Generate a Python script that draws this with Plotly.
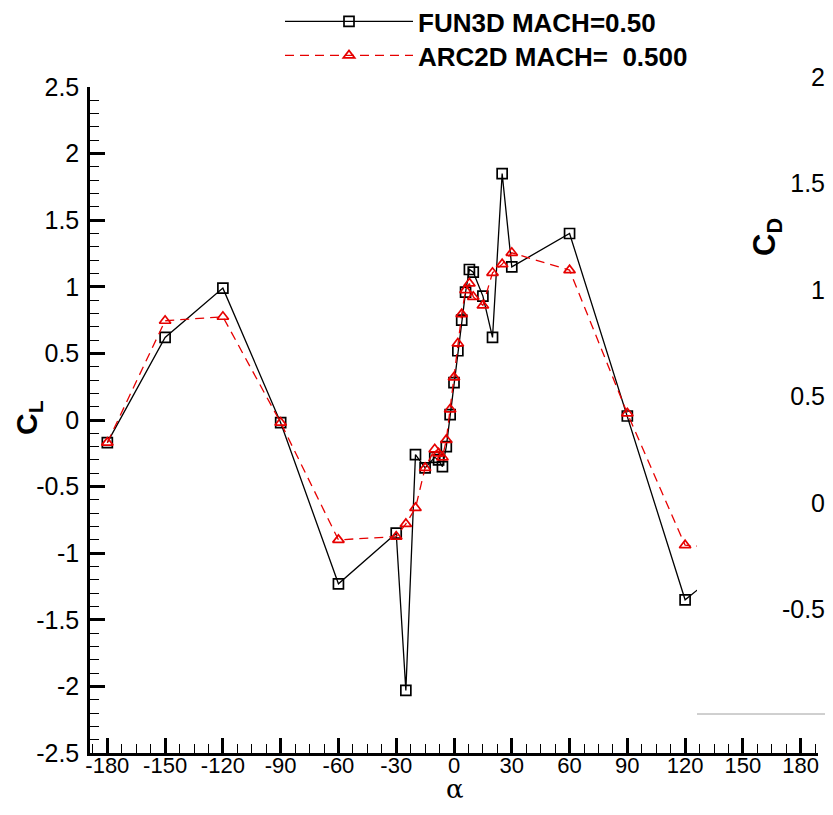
import plotly.graph_objects as go

# ---------------- data ----------------
alpha_fun3d = [-180, -150, -120, -90, -60, -30, -25, -20, -15, -10, -8, -6, -4, -2, 0,
               2, 4, 6, 8, 10, 15, 20, 25, 30, 60, 90, 120, 150, 180]
cl_fun3d = [-0.17, 0.62, 0.99, -0.02, -1.23, -0.85, -2.03, -0.26, -0.36, -0.28, -0.30, -0.35, -0.20, 0.04, 0.28,
            0.52, 0.75, 0.96, 1.13, 1.11, 0.93, 0.62, 1.85, 1.15, 1.40, 0.03, -1.35, -1.00, -0.17]

alpha_arc2d = [-180, -150, -120, -90, -60, -30, -25, -20, -15, -10, -8, -6, -4, -2, 0,
               2, 4, 6, 8, 10, 15, 20, 25, 30, 60, 90, 120, 150, 180]
cl_arc2d = [-0.17, 0.745, 0.775, -0.02, -0.90, -0.875, -0.78, -0.66, -0.36, -0.22, -0.25, -0.28, -0.15, 0.08, 0.32,
            0.575, 0.795, 0.975, 1.025, 0.925, 0.86, 1.105, 1.17, 1.255, 1.125, 0.05, -0.94, -0.97, -0.17]

x_tick_vals = [-180, -150, -120, -90, -60, -30, 0, 30, 60, 90, 120, 150, 180]
x_tick_text = ["-180", "-150", "-120", "-90", "-60", "-30", "0", "30", "60", "90", "120", "150", "180"]
y_tick_vals = [-2.5, -2, -1.5, -1, -0.5, 0, 0.5, 1, 1.5, 2, 2.5]
y_tick_text = ["-2.5", "-2", "-1.5", "-1", "-0.5", "0", "0.5", "1", "1.5", "2", "2.5"]
cd_tick_vals = [-0.5, 0, 0.5, 1, 1.5, 2]
cd_tick_text = ["-0.5", "0", "0.5", "1", "1.5", "2"]

name_fun3d = "FUN3D MACH=0.50"
name_arc2d = "ARC2D MACH=  0.500"

# ---------------- geometry (window pixels; page body adds an 8 px margin all round) ----------------
OFF = 8
WIN_W, WIN_H = 833, 815
W, H = WIN_W - 2 * OFF, WIN_H - 2 * OFF
AX_LEFT, AX_RIGHT, AX_BOTTOM, AX_TOP = 90, 818, 753, 87
CLIP_PX = 697
ML = AX_LEFT - OFF
MR = 0
MB = H - (AX_BOTTOM - OFF)
MT = 32
PW, PH = W - ML - MR, H - MT - MB


def px_x(cx):
    return (cx - OFF - ML) / PW


def px_y(cy):
    return (H - MB - (cy - OFF)) / PH


X_RANGE = [-189, 189]
Y_RANGE = [-2.5, 2.5]
x_dom_end = px_x(AX_RIGHT)
clip_dom = px_x(CLIP_PX)
x_clip_val = X_RANGE[0] + (X_RANGE[1] - X_RANGE[0]) * (CLIP_PX - AX_LEFT) / (AX_RIGHT - AX_LEFT)
y_dom_end = px_y(AX_TOP)
cd_zero_px, cd_px_per_unit = 503, 213
plot_top_px = MT + OFF
cd_range = [-(AX_BOTTOM - cd_zero_px) / cd_px_per_unit, (cd_zero_px - plot_top_px) / cd_px_per_unit]

FONT = "Liberation Sans, Arial, Helvetica, sans-serif"
RED = "rgb(230,0,0)"

fig = go.Figure()
fig.add_trace(go.Scatter(
    x=alpha_fun3d, y=cl_fun3d, name=name_fun3d, mode="lines+markers",
    xaxis="x2", yaxis="y", legend="legend",
    line=dict(color="black", width=1.3),
    marker=dict(symbol="square-open", size=10, color="black", line=dict(width=1.7)),
))
fig.add_trace(go.Scatter(
    x=alpha_arc2d, y=cl_arc2d, name=name_arc2d, mode="lines+markers",
    xaxis="x2", yaxis="y", legend="legend2",
    line=dict(color=RED, width=1.3, dash="9px,6px"),
    marker=dict(symbol="triangle-up-open", size=10, color=RED, line=dict(width=1.7)),
))
# invisible carriers so the full alpha axis and the C_D axis get drawn
fig.add_trace(go.Scatter(x=alpha_fun3d, y=cl_fun3d, xaxis="x", yaxis="y", mode="markers",
                         marker=dict(opacity=0), showlegend=False, hoverinfo="skip"))
fig.add_trace(go.Scatter(x=alpha_fun3d, y=cl_fun3d, xaxis="x", yaxis="y2", mode="markers",
                         marker=dict(opacity=0), showlegend=False, hoverinfo="skip"))

y_font = dict(family=FONT, size=25, color="black")
x_font = dict(family=FONT, size=22, color="black")
legend_font = dict(family=FONT, size=26, weight="bold", color="black")

fig.update_layout(
    width=W, height=H,
    margin=dict(l=ML, r=MR, t=MT, b=MB, pad=0, autoexpand=False),
    paper_bgcolor="white", plot_bgcolor="rgba(0,0,0,0)",
    font=dict(family=FONT, color="black"),
    showlegend=True,
    legend=dict(
        x=px_x(280), y=px_y(-2), xanchor="left", yanchor="top",
        font=legend_font, bgcolor="rgba(0,0,0,0)", itemwidth=128,
    ),
    legend2=dict(
        x=px_x(280), y=px_y(32), xanchor="left", yanchor="top",
        font=legend_font, bgcolor="rgba(0,0,0,0)", itemwidth=128,
    ),
    xaxis=dict(
        domain=[0, x_dom_end], range=X_RANGE, anchor="y",
        tickmode="array", tickvals=x_tick_vals, ticktext=x_tick_text,
        ticks="inside", ticklen=15, tickwidth=2.5, tickcolor="black",
        showline=True, linewidth=2.5, linecolor="black",
        showgrid=False, zeroline=False, tickfont=x_font, ticklabelstandoff=-9,
        minor=dict(dtick=7.5, tick0=-180, ticks="inside", ticklen=9, tickwidth=1,
                   tickcolor="black", showgrid=False),
    ),
    xaxis2=dict(
        domain=[0, clip_dom], range=[X_RANGE[0], x_clip_val], anchor="y",
        visible=False, showgrid=False, zeroline=False,
    ),
    yaxis=dict(
        domain=[0, y_dom_end], range=Y_RANGE, anchor="x",
        tickmode="array", tickvals=y_tick_vals, ticktext=y_tick_text,
        ticks="inside", ticklen=15, tickwidth=2.5, tickcolor="black",
        showline=True, linewidth=2.5, linecolor="black",
        showgrid=False, zeroline=False, tickfont=y_font, ticklabelstandoff=3,
        minor=dict(dtick=0.1, tick0=-2.5, ticks="inside", ticklen=9, tickwidth=1,
                   tickcolor="black", showgrid=False),
    ),
    yaxis2=dict(
        domain=[0, 1], range=cd_range, anchor="free", position=min(1.0, px_x(825)),
        side="left", tickmode="array", tickvals=cd_tick_vals, ticktext=cd_tick_text,
        ticks="", showline=False, showgrid=False, zeroline=False, tickfont=y_font,
    ),
)

# thin grey rule on the right panel
fig.add_shape(type="line", xref="paper", yref="paper",
              x0=clip_dom, x1=1.0, y0=px_y(714), y1=px_y(714),
              line=dict(color="rgb(160,160,160)", width=1))

# axis titles
fig.add_annotation(text="<b>C<sub>L</sub></b>", xref="paper", yref="paper",
                   x=px_x(28), y=px_y(418), xanchor="center", yanchor="middle", showarrow=False,
                   textangle=-90, font=dict(family=FONT, size=30, color="black"))
fig.add_annotation(text="<b>C<sub>D</sub></b>", xref="paper", yref="paper",
                   x=px_x(767), y=px_y(237), xanchor="center", yanchor="middle", showarrow=False,
                   textangle=-90, font=dict(family=FONT, size=31, color="black"))
fig.add_annotation(text="α", xref="paper", yref="paper",
                   x=px_x(455), y=px_y(806), xanchor="center", yanchor="bottom", showarrow=False,
                   font=dict(family="DejaVu Serif, serif", size=26, color="black"))

fig.write_html("out.html")
